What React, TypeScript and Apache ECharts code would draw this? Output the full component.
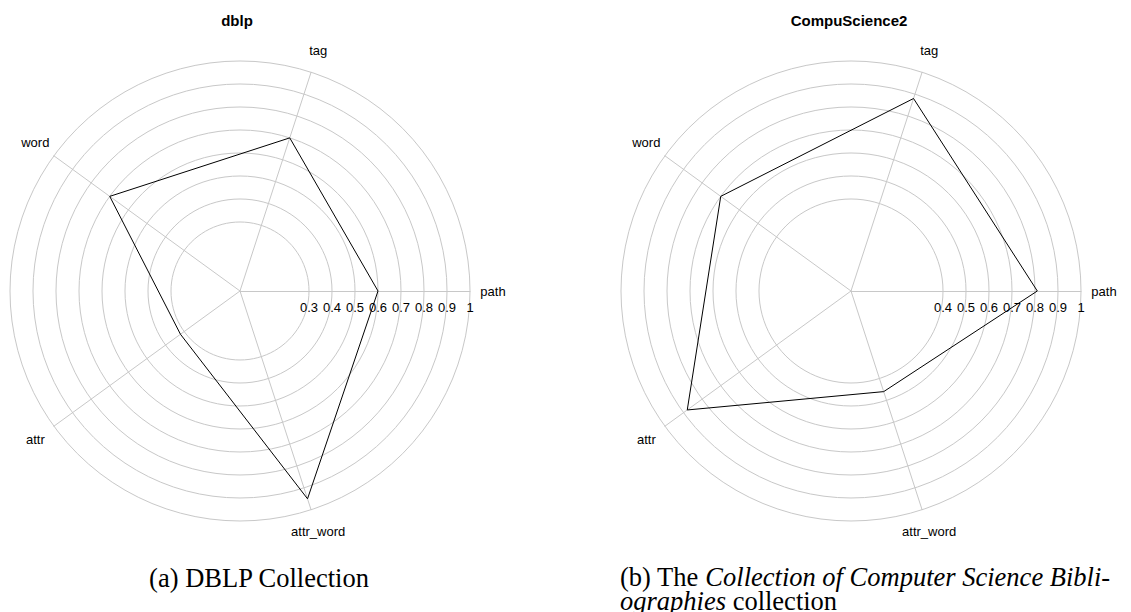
import React, { useEffect, useRef } from "react";
import * as echarts from "echarts";

// Feature groups shown on the spokes (counter-clockwise from the right)
const indicators = ["path", "tag", "word", "attr", "attr_word"];

// Scores per feature group
const dblpValues = [0.6, 0.7, 0.7, 0.32, 0.95];
const compuValues = [0.81, 0.88, 0.7, 0.88, 0.46];

// Smallest ring / tick label drawn on each radar
const dblpFirstRing = 0.3;
const compuFirstRing = 0.4;

const titles = ["dblp", "CompuScience2"];

const SANS = "Liberation Sans";
const SERIF = "Liberation Serif";
const GRID = "#c8c8c8";
const STEPS = 10;
const CAPTION_SIZE = 26.5;

function ringColors(first: number): string[] {
  const out: string[] = [];
  for (let i = 0; i <= STEPS; i++) {
    out.push(i / STEPS < first - 1e-9 ? "rgba(0,0,0,0)" : GRID);
  }
  return out;
}

function buildRadar(center: [number, number], first: number) {
  return {
    center,
    radius: 230,
    startAngle: 0,
    shape: "circle",
    splitNumber: STEPS,
    nameGap: 23,
    axisName: {
      color: "#000",
      fontSize: 13,
      fontFamily: SANS,
      align: "center",
      verticalAlign: "middle",
    },
    indicator: indicators.map((name, i) => ({
      name,
      min: 0,
      max: 1,
      axisLabel:
        i === 0
          ? {
              show: true,
              color: "#000",
              fontSize: 13,
              fontFamily: SANS,
              margin: -23,
              showMinLabel: true,
              showMaxLabel: true,
              formatter: (v: number) =>
                v < first - 1e-9 ? "" : String(+v.toFixed(1)),
            }
          : { show: false },
    })),
    axisLine: { show: true, lineStyle: { color: GRID, width: 1 } },
    axisTick: { show: false },
    splitArea: { show: false },
    splitLine: { show: true, lineStyle: { color: ringColors(first), width: 1 } },
  };
}

export default function App() {
  const ref = useRef<HTMLDivElement>(null);

  useEffect(() => {
    if (!ref.current) return;
    const chart = echarts.init(ref.current, undefined, { renderer: "svg" });
    const italic = { fontFamily: SERIF, fontSize: CAPTION_SIZE, fontStyle: "italic", color: "#000", lineHeight: 24 };
    const plain = { fontFamily: SERIF, fontSize: CAPTION_SIZE, color: "#000", lineHeight: 24 };
    const titleStyle = {
      fontFamily: SANS,
      fontSize: 15,
      fontWeight: "bold",
      fill: "#000",
      align: "center",
      verticalAlign: "middle",
      textAlign: "center",
      textVerticalAlign: "middle",
    };

    chart.setOption({
      animation: false,
      backgroundColor: "#fff",
      radar: [
        buildRadar([240, 291], dblpFirstRing),
        buildRadar([851, 291], compuFirstRing),
      ],
      series: [
        {
          type: "radar",
          radarIndex: 0,
          symbol: "none",
          lineStyle: { color: "#000", width: 1 },
          data: [{ value: dblpValues, name: titles[0] }],
        },
        {
          type: "radar",
          radarIndex: 1,
          symbol: "none",
          lineStyle: { color: "#000", width: 1 },
          data: [{ value: compuValues, name: titles[1] }],
        },
      ],
      graphic: [
        { type: "text", x: 237, y: 20, style: { ...titleStyle, text: titles[0] } },
        { type: "text", x: 849, y: 20, style: { ...titleStyle, text: titles[1] } },
        {
          type: "text",
          x: 259,
          y: 578,
          style: {
            fontFamily: SERIF,
            fontSize: CAPTION_SIZE,
            fill: "#000",
            text: "(a) DBLP Collection",
            align: "center",
            verticalAlign: "middle",
            textAlign: "center",
            textVerticalAlign: "middle",
          },
        },
        {
          type: "text",
          x: 620,
          y: 565,
          style: {
            fontFamily: SERIF,
            fontSize: CAPTION_SIZE,
            fill: "#000",
            text: "{p|(b) The }{i|Collection of Computer Science Bibli-}\n{i|ographies}{p| collection}",
            rich: { p: plain, i: italic },
            lineHeight: 24,
            align: "left",
            verticalAlign: "top",
            textAlign: "left",
            textVerticalAlign: "top",
          },
        },
      ],
    });
    return () => chart.dispose();
  }, []);

  return (
    <div
      ref={ref}
      style={{ position: "absolute", left: 0, top: 0, width: 1131, height: 612 }}
    />
  );
}
